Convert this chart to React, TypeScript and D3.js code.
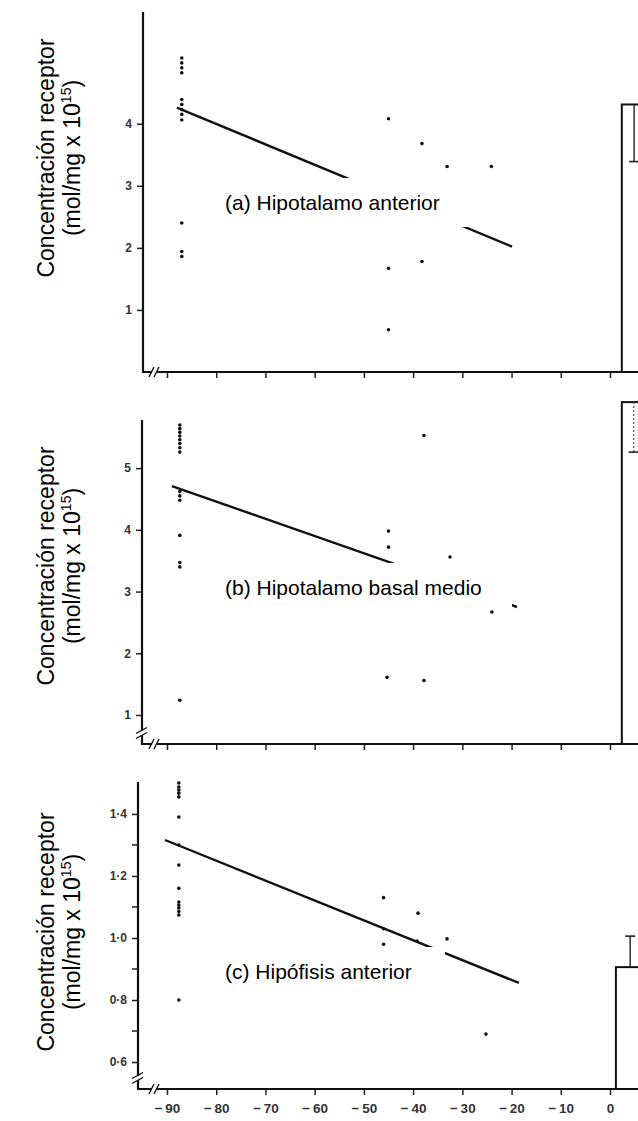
import React, { useEffect, useRef } from 'react';
import * as d3 from 'd3';

// eje x común (días)
const xTicks = [-90, -80, -70, -60, -50, -40, -30, -20, -10, 0];

// (a) Hipotalamo anterior
const pointsA: [number, number][] = [
  [-87, 5.06], [-87, 4.98], [-87, 4.9], [-87, 4.82], [-87, 4.39], [-87, 4.31], [-87, 4.23],
  [-87, 4.15], [-87, 4.06], [-87, 2.4], [-87, 1.94], [-87, 1.86],
  [-45, 4.08], [-38.2, 3.68], [-33.1, 3.31], [-24.1, 3.31], [-45, 1.67], [-38.2, 1.78], [-45, 0.68],
];
const fitA: [number, number][] = [[-88, 4.26], [-19.9, 2.02]];
const barA = [2.4, 7.4, 4.31, 3.39]; // x0, x1, media, extremo error
const yTicksA = [1, 2, 3, 4];
const yDomainA = [0, 5.8];

// (b) Hipotalamo basal medio
const pointsB: [number, number][] = [
  [-87.4, 5.7], [-87.4, 5.64], [-87.4, 5.58], [-87.4, 5.52], [-87.4, 5.46], [-87.4, 5.4],
  [-87.4, 5.33], [-87.4, 5.26], [-87.4, 4.62], [-87.4, 4.55], [-87.4, 4.48], [-87.4, 3.91],
  [-87.4, 3.47], [-87.4, 3.4], [-87.4, 1.24],
  [-37.8, 5.53], [-45, 3.98], [-45, 3.72], [-32.5, 3.56], [-24, 2.67], [-45.3, 1.61], [-37.8, 1.56],
];
const fitB: [number, number][] = [[-89, 4.71], [-18.9, 2.75]];
const barB = [2.4, 7.2, 6.07, 5.26];
const yTicksB = [1, 2, 3, 4, 5];
const yDomainB = [0.53, 5.78];

// (c) Hipófisis anterior
const pointsC: [number, number][] = [
  [-87.6, 1.5], [-87.6, 1.487], [-87.6, 1.477], [-87.6, 1.467], [-87.6, 1.455], [-87.6, 1.39],
  [-87.6, 1.3], [-87.6, 1.235], [-87.6, 1.16], [-87.6, 1.116], [-87.6, 1.106], [-87.6, 1.097],
  [-87.6, 1.085], [-87.6, 1.074], [-87.6, 0.8],
  [-46, 1.13], [-39, 1.08], [-46, 1.03], [-39.2, 0.99], [-46, 0.98], [-33.1, 0.997], [-25.2, 0.69],
];
const fitC: [number, number][] = [[-90.4, 1.316], [-18.5, 0.855]];
const barC = [1.2, 7.0, 0.906, 1.006];
const yTicksC = [0.6, 0.8, 1.0, 1.2, 1.4];
const yMinorC = [0.7, 0.9, 1.1, 1.3];
const yDomainC = [0.513, 1.503];

const panelLabels = ['(a) Hipotalamo anterior', '(b) Hipotalamo basal medio', '(c) Hipófisis anterior'];

const W = 638;
const H = 1121;
const FONT = '"Liberation Sans", Arial, sans-serif';

const App: React.FC = () => {
  const svgRef = useRef<SVGSVGElement>(null);

  useEffect(() => {
    if (!svgRef.current) return;
    const svg = d3.select(svgRef.current);
    svg.selectAll('*').remove();

    const x = d3.scaleLinear().domain([-90, 0]).range([167, 610]);

    // geometría de cada panel (px)
    const panels = [
      { points: pointsA, fit: fitA, bar: barA, ticks: yTicksA, minor: [] as number[], domain: yDomainA,
        axisX: 143, top: 12, bottom: 372, labY: 210, box: [215, 178, 470, 227], ylab: 158,
        yBreak: false, xLabels: false, fmt: d3.format('d'), errDash: false },
      { points: pointsB, fit: fitB, bar: barB, ticks: yTicksB, minor: [] as number[], domain: yDomainB,
        axisX: 142, top: 420, bottom: 744, labY: 595, box: [215, 563, 512, 608], ylab: 566,
        yBreak: true, xLabels: false, fmt: d3.format('d'), errDash: true },
      { points: pointsC, fit: fitC, bar: barC, ticks: yTicksC, minor: yMinorC, domain: yDomainC,
        axisX: 138, top: 782, bottom: 1089, labY: 979, box: [215, 947, 445, 1000], ylab: 932,
        yBreak: true, xLabels: true, fmt: (d: number) => d3.format('.1f')(d).replace('.', '·'), errDash: false },
    ];

    const xFmt = (d: number) => (d < 0 ? `\u2212\u2009${Math.abs(d)}` : `${d}`);

    panels.forEach((p, i) => {
      const y = d3.scaleLinear().domain(p.domain).range([p.bottom, p.top]);
      const g = svg.append('g');

      // barra del grupo control
      const [bx0, bx1, bv, be] = p.bar;
      g.append('rect')
        .attr('x', x(bx0))
        .attr('y', y(bv))
        .attr('width', x(bx1) - x(bx0))
        .attr('height', p.bottom - y(bv))
        .style('fill', 'none')
        .style('stroke', '#111')
        .style('stroke-width', 2);
      const ex = x((bx0 + bx1) / 2);
      g.append('line')
        .attr('x1', ex).attr('x2', ex)
        .attr('y1', y(bv)).attr('y2', y(be))
        .style('stroke', p.errDash ? '#666' : '#222')
        .style('stroke-width', 1.4)
        .style('stroke-dasharray', p.errDash ? '2,2' : null);
      g.append('line')
        .attr('x1', ex - 5).attr('x2', ex + 5)
        .attr('y1', y(be)).attr('y2', y(be))
        .style('stroke', '#222')
        .style('stroke-width', 1.6);

      // recta de regresión
      const line = d3.line<[number, number]>().x((d) => x(d[0])).y((d) => y(d[1]));
      g.append('path')
        .attr('d', line(p.fit))
        .style('fill', 'none')
        .style('stroke', '#111')
        .style('stroke-width', 2.4);

      // caja blanca de la etiqueta (tapa la recta)
      const [b0, b1, b2, b3] = p.box;
      g.append('rect')
        .attr('x', b0).attr('y', b1)
        .attr('width', b2 - b0).attr('height', b3 - b1)
        .style('fill', '#fff');
      g.append('text')
        .attr('x', 225)
        .attr('y', p.labY)
        .style('font-family', FONT)
        .style('font-size', '21px')
        .style('fill', '#000')
        .text(panelLabels[i]);

      // puntos
      g.selectAll('.pt')
        .data(p.points)
        .enter()
        .append('circle')
        .attr('cx', (d) => x(d[0]))
        .attr('cy', (d) => y(d[1]))
        .attr('r', 1.8)
        .style('fill', '#111');

      // eje y
      const yAxis = d3.axisLeft(y).tickValues(p.ticks).tickSize(6).tickSizeOuter(0).tickPadding(5)
        .tickFormat((d) => p.fmt(d as number));
      const ya = g.append('g').attr('transform', `translate(${p.axisX},0)`).call(yAxis);
      ya.select('.domain').remove();
      ya.selectAll('line').style('stroke', '#222').style('stroke-width', 1.5);
      ya.selectAll('text')
        .style('font-family', FONT)
        .style('font-size', '12px')
        .style('font-weight', 'bold')
        .style('fill', '#333');
      p.minor.forEach((m) => {
        g.append('line')
          .attr('x1', p.axisX - 6).attr('x2', p.axisX)
          .attr('y1', y(m)).attr('y2', y(m))
          .style('stroke', '#222').style('stroke-width', 1.5);
      });
      g.append('line')
        .attr('x1', p.axisX).attr('x2', p.axisX)
        .attr('y1', p.top).attr('y2', p.bottom)
        .style('stroke', '#111').style('stroke-width', 2.2);

      // eje x
      const xAxis = d3.axisBottom(x).tickValues(xTicks).tickSize(6).tickSizeOuter(0).tickPadding(8)
        .tickFormat((d) => (p.xLabels ? xFmt(d as number) : ''));
      const xa = g.append('g').attr('transform', `translate(0,${p.bottom})`).call(xAxis);
      xa.select('.domain').remove();
      xa.selectAll('line').style('stroke', '#222').style('stroke-width', 1.5);
      xa.selectAll('text')
        .style('font-family', FONT)
        .style('font-size', '13.5px')
        .style('font-weight', 'bold')
        .style('fill', '#333');
      g.append('line')
        .attr('x1', p.axisX - 1).attr('x2', W + 5)
        .attr('y1', p.bottom).attr('y2', p.bottom)
        .style('stroke', '#111').style('stroke-width', 2.2);

      // cortes de eje
      g.append('rect').attr('x', 152).attr('y', p.bottom - 3).attr('width', 5).attr('height', 6).style('fill', '#fff');
      [151, 156].forEach((bx) => {
        g.append('line')
          .attr('x1', bx - 2).attr('y1', p.bottom + 5)
          .attr('x2', bx + 3).attr('y2', p.bottom - 5)
          .style('stroke', '#111').style('stroke-width', 1.4);
      });
      if (p.yBreak) {
        const yb = p.bottom - 11;
        g.append('rect').attr('x', p.axisX - 3).attr('y', yb - 2).attr('width', 6).attr('height', 4).style('fill', '#fff');
        [-2.5, 2.5].forEach((o) => {
          g.append('line')
            .attr('x1', p.axisX - 6).attr('y1', yb + o + 3)
            .attr('x2', p.axisX + 5).attr('y2', yb + o - 3)
            .style('stroke', '#111').style('stroke-width', 1.4);
        });
      }

      // título del eje y
      const t1 = g.append('text')
        .attr('transform', `translate(54,${p.ylab}) rotate(-90)`)
        .attr('text-anchor', 'middle')
        .style('font-family', FONT)
        .style('font-size', '23px')
        .style('fill', '#000');
      t1.text('Concentración receptor');
      const t2 = g.append('text')
        .attr('transform', `translate(80,${p.ylab}) rotate(-90)`)
        .attr('text-anchor', 'middle')
        .style('font-family', FONT)
        .style('font-size', '23px')
        .style('fill', '#000');
      t2.append('tspan').text('(mol/mg x 10');
      t2.append('tspan').attr('dy', -9).style('font-size', '14px').text('15');
      t2.append('tspan').attr('dy', 9).text(')');
    });
  }, []);

  return (
    <svg
      ref={svgRef}
      width={W}
      height={H}
      style={{ position: 'absolute', left: 0, top: 0, background: '#fff', overflow: 'hidden' }}
    />
  );
};

export default App;
